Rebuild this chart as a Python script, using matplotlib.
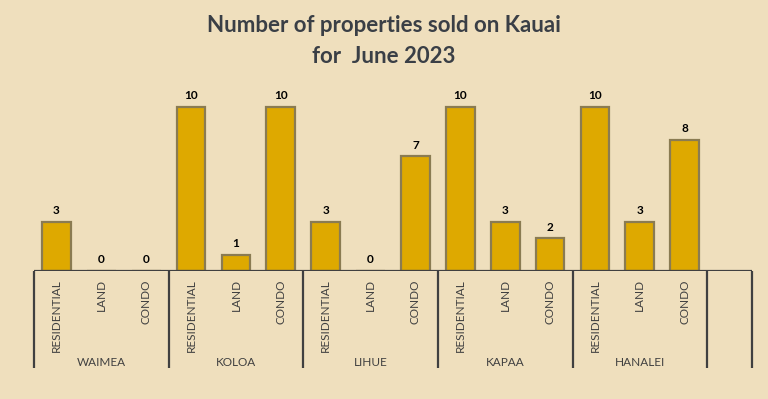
import numpy as np
from matplotlib import pyplot as plt
from matplotlib import transforms

# values
areas = ['WAIMEA', 'KOLOA', 'LIHUE', 'KAPAA', 'HANALEI']
types = ['RESIDENTIAL', 'LAND', 'CONDO']
waimea = [3, 0, 0]
koloa = [10, 1, 10]
lihue = [3, 0, 7]
kapaa = [10, 3, 2]
hanalei = [10, 3, 8]

title = 'Number of properties sold on Kauai\nfor  June 2023'

plt.rcParams['font.family'] = ['Lato', 'DejaVu Sans']

bg = '#EFDFBD'
dark = '#404040'

counts = waimea + koloa + lihue + kapaa + hanalei
labels = types * len(areas)
x = np.arange(len(counts))
n_slots = len(counts) + 1  # empty category at the end

fig = plt.figure(figsize=(7.68, 3.99), dpi=100, facecolor=bg)
ax = fig.add_axes([34 / 768, 1 - 271 / 399, (752 - 34) / 768, (271 - 90.6) / 399])
ax.set_facecolor(bg)

bars = ax.bar(x, counts, width=0.64, color='#DEA900', edgecolor='#8A7B52',
              linewidth=1.6, zorder=2)
ax.bar_label(bars, padding=4, fontsize=8.5, fontweight='bold', color='black')

ax.set_xlim(-0.5, n_slots - 0.5)
ax.set_ylim(0, 11)
ax.axhline(0, color=dark, lw=1.6, zorder=3)
for s in ax.spines.values():
    s.set_visible(False)
ax.set_yticks([])
ax.set_xticks(x, labels, rotation=90, fontsize=8.5, color=dark)
ax.tick_params(axis='x', length=0, pad=6)

# group labels and separators below the axis
trans = transforms.blended_transform_factory(ax.transData, fig.transFigure)
y_axis = 1 - 271 / 399
y_end = 1 - 368 / 399
for i, name in enumerate(areas):
    ax.text(i * 3 + 1, 1 - 362 / 399, name, transform=trans, ha='center',
            va='center', fontsize=8.5, color=dark)
seps = [i * 3 - 0.5 for i in range(len(areas) + 1)] + [n_slots - 0.5]
for sx in seps:
    ax.plot([sx, sx], [y_axis, y_end], transform=trans, color=dark, lw=1.6,
            clip_on=False, solid_capstyle='butt')

fig.text(0.5, 1 - 41 / 399, title, ha='center', va='center', fontsize=16,
         fontweight='bold', color='#3A3F46', linespacing=1.55)

fig.savefig('out.png', dpi=100, facecolor=bg)
